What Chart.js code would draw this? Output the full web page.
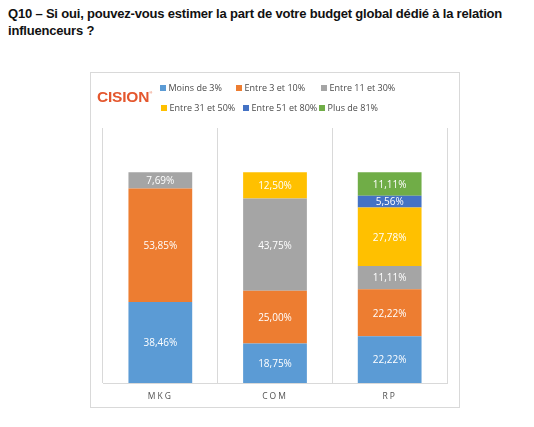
<!DOCTYPE html>
<html>
<head>
<meta charset="utf-8">
<script src="https://cdn.jsdelivr.net/npm/chart.js@4"></script>
<style>
  html, body { margin:0; padding:0; background:#fff; width:534px; height:427px; overflow:hidden; }
  #title { position:absolute; left:8px; top:5px; width:526px; white-space:nowrap; font-family:"Liberation Sans", Arial, sans-serif; font-weight:bold; font-size:13px; line-height:17px; color:#111; letter-spacing:-0.19px; }
  #box { position:absolute; left:90px; top:72px; width:368px; height:334px; border:1px solid #d9d9d9; background:#fff; }
  #logo { position:absolute; left:97px; top:88px; font-family:"Liberation Sans", Arial, sans-serif; font-weight:bold; font-size:15.5px; color:#E4572E; letter-spacing:-0.2px; }
  #logo sup { font-size:4px; font-weight:normal; vertical-align:top; position:relative; top:2px; }
  #wrap { position:absolute; left:91px; top:73px; width:368px; height:334px; }
</style>
</head>
<body>
<div id="title">Q10 – Si oui, pouvez-vous estimer la part de votre budget global dédié à la relation<br>influenceurs ?</div>
<div id="box"></div>
<div id="wrap"><canvas id="c"></canvas></div>
<div id="logo">CISION<sup>®</sup></div>
<script>
const categories = ["MKG", "COM", "RP"];
const seriesNames = ["Moins de 3%", "Entre 3 et 10%", "Entre 11 et 30%", "Entre 31 et 50%", "Entre 51 et 80%", "Plus de 81%"];
const moinsDe3 = [38.46, 18.75, 22.22];
const entre3et10 = [53.85, 25.00, 22.22];
const entre11et30 = [7.69, 43.75, 11.11];
const entre31et50 = [0, 12.50, 27.78];
const entre51et80 = [0, 0, 5.56];
const plusDe81 = [0, 0, 11.11];
const seriesColors = ["#5B9BD5", "#ED7D31", "#A5A5A5", "#FFC000", "#4472C4", "#70AD47"];
const seriesValues = [moinsDe3, entre3et10, entre11et30, entre31et50, entre51et80, plusDe81];

const legendPos = [[160, 88], [236, 88], [321, 88], [161, 108], [243, 108], [319, 108]];

const valueLabels = {
  id: 'valueLabels',
  afterDatasetsDraw(chart) {
    const ctx = chart.ctx;
    ctx.save();
    ctx.letterSpacing = '0px';
    ctx.font = '10px "Open Sans", sans-serif';
    ctx.fillStyle = '#ffffff';
    ctx.textAlign = 'center';
    ctx.textBaseline = 'middle';
    chart.data.datasets.forEach((ds, i) => {
      const meta = chart.getDatasetMeta(i);
      meta.data.forEach((bar, j) => {
        const v = ds.data[j];
        if (!v) return;
        const y = (bar.y + bar.base) / 2;
        ctx.fillText(v.toFixed(2).replace('.', ',') + '%', bar.x, y + 1);
      });
    });
    ctx.restore();
  }
};

const customLegend = {
  id: 'customLegend',
  afterDraw(chart) {
    const ctx = chart.ctx;
    ctx.save();
    ctx.letterSpacing = '0px';
    ctx.font = '9px "Open Sans", sans-serif';
    ctx.textBaseline = 'middle';
    ctx.textAlign = 'left';
    chart.data.datasets.forEach((ds, i) => {
      const x = legendPos[i][0] - 91, y = legendPos[i][1] - 73;
      ctx.fillStyle = ds.backgroundColor;
      ctx.fillRect(x, y - 3, 6, 6);
      ctx.fillStyle = '#4a4a4a';
      ctx.fillText(ds.label, x + 8.5, y);
    });
    ctx.restore();
  }
};

const spacing = {
  id: 'spacing',
  beforeDraw(chart) { chart.ctx.letterSpacing = '2px'; },
  beforeDatasetsDraw(chart) { chart.ctx.letterSpacing = '0px'; }
};

new Chart(document.getElementById('c'), {
  type: 'bar',
  data: {
    labels: categories,
    datasets: seriesNames.map((n, i) => ({
      label: n,
      data: seriesValues[i],
      backgroundColor: seriesColors[i],
      borderWidth: 0,
      categoryPercentage: 1,
      barPercentage: 0.556
    }))
  },
  options: {
    responsive: true,
    maintainAspectRatio: false,
    animation: false,
    devicePixelRatio: 1,
    layout: { padding: { left: 12, right: 12, top: 55, bottom: 0 } },
    plugins: { legend: { display: false }, tooltip: { enabled: false } },
    scales: {
      x: {
        stacked: true,
        grid: { display: true, color: '#d9d9d9', lineWidth: 1, drawTicks: false, offset: true },
        border: { display: true, color: '#d9d9d9' },
        ticks: { color: '#505050', font: { family: '"Open Sans", sans-serif', size: 8.5 }, padding: 8 },
        afterFit(scale) { scale.height = 24; }
      },
      y: {
        stacked: true,
        display: false,
        min: 0,
        max: 121
      }
    }
  },
  plugins: [valueLabels, customLegend, spacing]
});
</script>
</body>
</html>
